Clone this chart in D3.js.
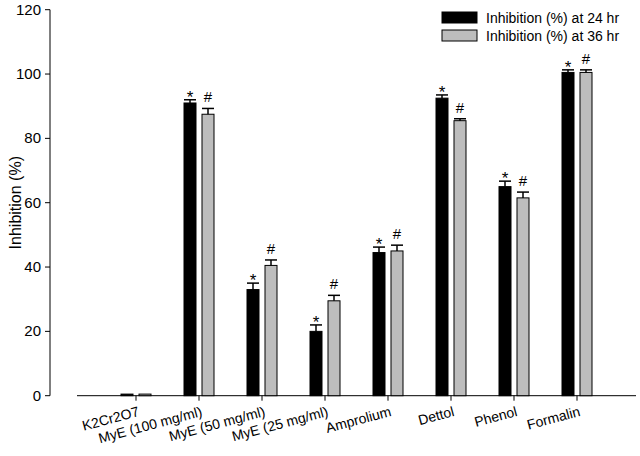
<!DOCTYPE html>
<html><head><meta charset="utf-8">
<script src="https://cdn.jsdelivr.net/npm/d3@7"></script>
<style>body{margin:0;background:#fff}text{font-family:"Liberation Sans",Arial,sans-serif;fill:#000}</style>
</head><body><svg id="c" width="640" height="456"></svg>
<script>
const categories = ["K2Cr2O7","MyE (100 mg/ml)","MyE (50 mg/ml)","MyE (25 mg/ml)","Amprolium","Dettol","Phenol","Formalin"];
const val24 = [0.5, 91, 33, 20, 44.5, 92.5, 65, 100.5];
const err24 = [0, 1, 2, 2, 1.7, 1, 1.7, 0.8];
const val36 = [0.5, 87.5, 40.5, 29.5, 45, 85.5, 61.5, 100.5];
const err36 = [0, 1.8, 1.7, 1.7, 1.8, 0.6, 1.8, 0.8];
const yTicks = [0, 20, 40, 60, 80, 100, 120];
const series = [
  {name: "Inhibition (%) at 24 hr", vals: val24, errs: err24, fill: "#000", mark: "*", dx: -9},
  {name: "Inhibition (%) at 36 hr", vals: val36, errs: err36, fill: "#bdbdbd", mark: "#", dx: 9}
];

const svg = d3.select("#c");
const y = d3.scaleLinear().domain([0, 120]).range([395.7, 9.7]);
const x = d3.scaleBand().domain(categories).range([104.5, 608.5]);
const bw = 12;

svg.append("line").attr("x1", 50).attr("x2", 50).attr("y1", y(120)).attr("y2", y(0)).attr("stroke", "#000");
svg.append("line").attr("x1", 77).attr("x2", 636).attr("y1", y(0)).attr("y2", y(0)).attr("stroke", "#000");
yTicks.forEach(t => {
  svg.append("line").attr("x1", 45).attr("x2", 50).attr("y1", y(t)).attr("y2", y(t)).attr("stroke", "#000");
  svg.append("text").attr("x", 41).attr("y", y(t) + 5).attr("text-anchor", "end").attr("font-size", 15).text(t);
});
svg.append("text").attr("transform", `translate(21,${y(60)}) rotate(-90)`).attr("text-anchor", "middle")
  .attr("font-size", 16).text("Inhibition (%)");

categories.forEach(c => {
  const cx = x(c) + x.bandwidth() / 2;
  svg.append("line").attr("x1", cx).attr("x2", cx).attr("y1", y(0)).attr("y2", y(0) + 5).attr("stroke", "#000");
  svg.append("text").attr("transform", `translate(${cx + 4},${y(0) + 20}) rotate(-15)`)
    .attr("text-anchor", "end").attr("font-size", 14).text(c);
});

series.forEach(s => {
  categories.forEach((c, i) => {
    const cx = x(c) + x.bandwidth() / 2 + s.dx;
    const v = s.vals[i], e = s.errs[i];
    svg.append("rect").attr("x", cx - bw / 2).attr("y", y(v)).attr("width", bw).attr("height", y(0) - y(v))
      .attr("fill", s.fill).attr("stroke", "#000");
    if (e > 0) {
      svg.append("line").attr("x1", cx).attr("x2", cx).attr("y1", y(v)).attr("y2", y(v + e)).attr("stroke", "#000").attr("stroke-width", 1.5);
      svg.append("line").attr("x1", cx - bw / 2).attr("x2", cx + bw / 2).attr("y1", y(v + e)).attr("y2", y(v + e)).attr("stroke", "#000").attr("stroke-width", 1.5);
      svg.append("text").attr("x", cx).attr("y", y(v + e) - (s.mark === "*" ? 5 : 6) + (s.mark === "*" ? 8 : 0))
        .attr("text-anchor", "middle").attr("font-size", s.mark === "*" ? 17 : 15).text(s.mark);
    }
  });
});

series.forEach((s, i) => {
  const ly = 12 + i * 18;
  svg.append("rect").attr("x", 442).attr("y", ly).attr("width", 35).attr("height", 11).attr("fill", s.fill).attr("stroke", "#000");
  svg.append("text").attr("x", 486).attr("y", ly + 11).attr("font-size", 14).text(s.name);
});
</script></body></html>
